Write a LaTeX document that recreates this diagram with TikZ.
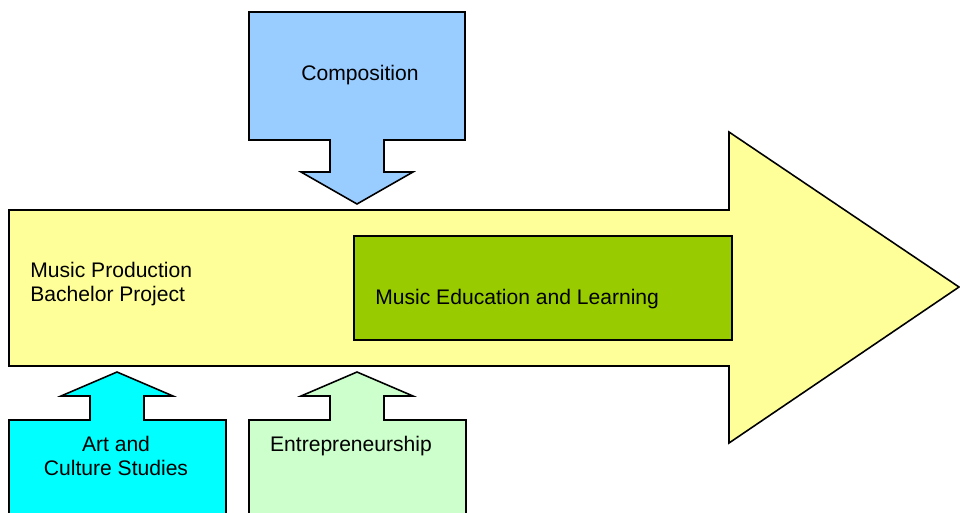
\documentclass[tikz,border=0pt]{standalone}
\usepackage{fontspec}
\setmainfont{Liberation Sans}
\usepackage{tikz}
\definecolor{mainyellow}{HTML}{FFFF99}
\definecolor{compblue}{HTML}{99CCFF}
\definecolor{artcyan}{HTML}{00FFFF}
\definecolor{entregreen}{HTML}{CCFFCC}
\definecolor{edugreen}{HTML}{99CC00}
\tikzset{block/.style={draw=black, line width=0.9pt, line join=miter}, label text/.style={inner sep=0pt, font=\fontsize{12}{13.3}\selectfont}}

\begin{document}
\begin{tikzpicture}[x=0.02cm, y=-0.02cm]
      \def\stem{27}
      \def\head{56}
      \useasboundingbox (0,0) rectangle (960,512);
      \clip (0,0) rectangle (960,512);
      \draw [block, fill=mainyellow] (9,210) -- (729,210) -- (729,132) -- (959,287) -- (729,443) -- (729,366) -- (9,366) -- cycle;
      \draw [block, fill=edugreen] (354,236) rectangle (732,340);
      \draw [block, fill=compblue] (249,12) -- (465,12) -- (465,140) -- (357+\stem,140) -- (357+\stem,172) -- (357+\head,172) -- (357,204)
        -- (357-\head,172) -- (357-\stem,172) -- (357-\stem,140) -- (249,140) -- cycle;
      \draw [block, fill=artcyan] (9,530) -- (9,420) -- (117-\stem,420) -- (117-\stem,396) -- (117-\head,396) -- (117,372)
        -- (117+\head,396) -- (117+\stem,396) -- (117+\stem,420) -- (226,420) -- (226,530);
      \draw [block, fill=entregreen] (249,530) -- (249,420) -- (357-\stem,420) -- (357-\stem,396) -- (357-\head,396) -- (357,372)
        -- (357+\head,396) -- (357+\stem,396) -- (357+\stem,420) -- (466,420) -- (466,530);
      \node [label text, anchor=base] (comp) at (360,80) {Composition};
      \node [label text, anchor=north west, align=left] (prod) at (30,262) {Music Production\\Bachelor Project};
      \node [label text, anchor=base west] (edu) at (375,304) {Music Education and Learning};
      \node [label text, anchor=north, align=center] (art) at (116,436) {Art and\\Culture Studies};
      \node [label text, anchor=base] (entre) at (351,451) {Entrepreneurship};
    \end{tikzpicture}
\end{document}
